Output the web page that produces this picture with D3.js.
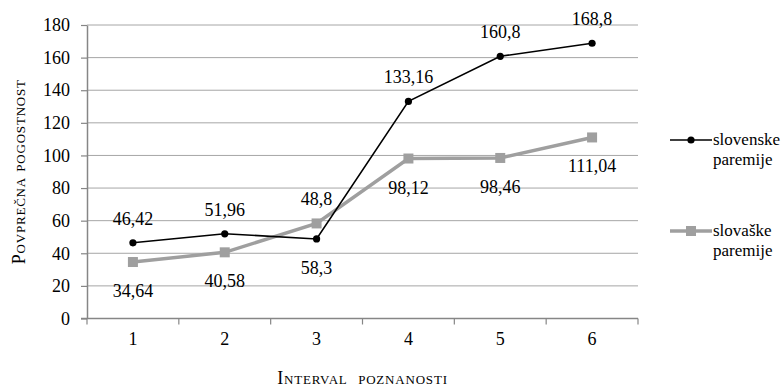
<!DOCTYPE html>
<html>
<head>
<meta charset="utf-8">
<script src="https://cdn.jsdelivr.net/npm/d3@7"></script>
<style>
  html, body { margin: 0; padding: 0; background: #fff; }
</style>
</head>
<body>
<svg id="chart" width="782" height="388"></svg>
<script>
// Average frequency per familiarity interval
const categories = ["1", "2", "3", "4", "5", "6"];
const slovenske = [46.42, 51.96, 48.8, 133.16, 160.8, 168.8];
const slovaske = [34.64, 40.58, 58.3, 98.12, 98.46, 111.04];
const yTicks = [0, 20, 40, 60, 80, 100, 120, 140, 160, 180];
const seriesNames = [["slovenske", "paremije"], ["slovaške", "paremije"]];
const fmt = v => String(v).replace(".", ",");
const SERIF = "'Liberation Serif', 'Times New Roman', serif";
const FS = 18;

const svg = d3.select("#chart");
const margin = { left: 87, right: 638, top: 25, bottom: 318.5 };

const x = d3.scaleBand().domain(categories).range([margin.left, margin.right]);
const y = d3.scaleLinear().domain([0, 180]).range([margin.bottom, margin.top]);
const cx = c => x(c) + x.bandwidth() / 2;

// horizontal gridlines
svg.append("g")
  .selectAll("line")
  .data(yTicks.filter(t => t > 0))
  .join("line")
  .attr("x1", margin.left).attr("x2", margin.right)
  .attr("y1", d => y(d)).attr("y2", d => y(d))
  .attr("stroke", "#a6a6a6").attr("stroke-width", 1);

// y axis
const yAxis = svg.append("g")
  .attr("transform", `translate(${margin.left},0)`)
  .call(d3.axisLeft(y).tickValues(yTicks).tickSize(6).tickPadding(11).tickSizeOuter(0));
yAxis.select(".domain").attr("stroke", "#868686").attr("stroke-width", 1.5);
yAxis.selectAll(".tick line").attr("stroke", "#868686").attr("stroke-width", 1.2);
yAxis.selectAll(".tick text").attr("font-size", FS);

// x axis with ticks at category boundaries
const xAxis = svg.append("g")
  .attr("transform", `translate(0,${margin.bottom})`)
  .call(d3.axisBottom(x).tickSize(0).tickPadding(14));
xAxis.select(".domain").remove();
xAxis.selectAll(".tick text").attr("font-size", FS);
svg.append("line")
  .attr("x1", margin.left - 6).attr("x2", margin.right)
  .attr("y1", margin.bottom).attr("y2", margin.bottom)
  .attr("stroke", "#868686").attr("stroke-width", 1.5);
const edges = categories.map(c => x(c)).concat([margin.right]);
svg.append("g")
  .selectAll("line")
  .data(edges)
  .join("line")
  .attr("x1", d => d).attr("x2", d => d)
  .attr("y1", margin.bottom).attr("y2", margin.bottom + 6)
  .attr("stroke", "#868686").attr("stroke-width", 1.2);

// axis titles
svg.append("text")
  .attr("x", (margin.left + margin.right) / 2).attr("y", 384)
  .attr("text-anchor", "middle")
  .attr("font-size", 18)
  .style("font-variant", "small-caps")
  .style("letter-spacing", "0.8px")
  .style("white-space", "pre")
  .text("Interval  poznanosti");
svg.append("text")
  .attr("transform", `translate(25,${(margin.top + margin.bottom) / 2}) rotate(-90)`)
  .attr("text-anchor", "middle")
  .attr("font-size", 18)
  .style("font-variant", "small-caps")
  .style("letter-spacing", "0.8px")
  .text("Povprečna pogostnost");

const line = d3.line().x((d, i) => cx(categories[i])).y(d => y(d));

// slovaške paremije: thick grey line with squares
svg.append("path")
  .datum(slovaske)
  .attr("d", line)
  .attr("fill", "none").attr("stroke", "#9f9f9f").attr("stroke-width", 3.5);
svg.append("g")
  .selectAll("rect")
  .data(slovaske)
  .join("rect")
  .attr("x", (d, i) => cx(categories[i]) - 5).attr("y", d => y(d) - 5)
  .attr("width", 10).attr("height", 10)
  .attr("fill", "#9f9f9f");

// slovenske paremije: thin black line with dots
svg.append("path")
  .datum(slovenske)
  .attr("d", line)
  .attr("fill", "none").attr("stroke", "#000").attr("stroke-width", 1.6);
svg.append("g")
  .selectAll("circle")
  .data(slovenske)
  .join("circle")
  .attr("cx", (d, i) => cx(categories[i])).attr("cy", d => y(d))
  .attr("r", 3.6).attr("fill", "#000");

// value labels: first series above the upper point, second below the lower point
const labels = svg.append("g").attr("font-size", FS).attr("text-anchor", "middle");
categories.forEach((c, i) => {
  const hi = Math.max(slovenske[i], slovaske[i]);
  const lo = Math.min(slovenske[i], slovaske[i]);
  labels.append("text")
    .attr("x", cx(c)).attr("y", y(hi) - 18)
    .text(fmt(slovenske[i]));
  labels.append("text")
    .attr("x", cx(c)).attr("y", y(lo) + 35)
    .text(fmt(slovaske[i]));
});

// legend
const legend = svg.append("g");
const legendRows = [
  { y: 140, color: "#000", width: 1.6, marker: "circle" },
  { y: 231, color: "#9f9f9f", width: 3.5, marker: "rect" }
];
legendRows.forEach((r, i) => {
  legend.append("line")
    .attr("x1", 670).attr("x2", 712).attr("y1", r.y).attr("y2", r.y)
    .attr("stroke", r.color).attr("stroke-width", r.width);
  if (r.marker === "circle") {
    legend.append("circle").attr("cx", 691).attr("cy", r.y).attr("r", 3.6).attr("fill", r.color);
  } else {
    legend.append("rect").attr("x", 686).attr("y", r.y - 5).attr("width", 10).attr("height", 10).attr("fill", r.color);
  }
  const t = legend.append("text").attr("x", 713).attr("y", r.y + 5).attr("font-size", 17);
  t.append("tspan").attr("x", 713).text(seriesNames[i][0]);
  t.append("tspan").attr("x", 713).attr("dy", 20).text(seriesNames[i][1]);
});

// one serif face for every piece of text
svg.selectAll("text").style("font-family", SERIF).style("fill", "#000");
</script>
</body>
</html>
